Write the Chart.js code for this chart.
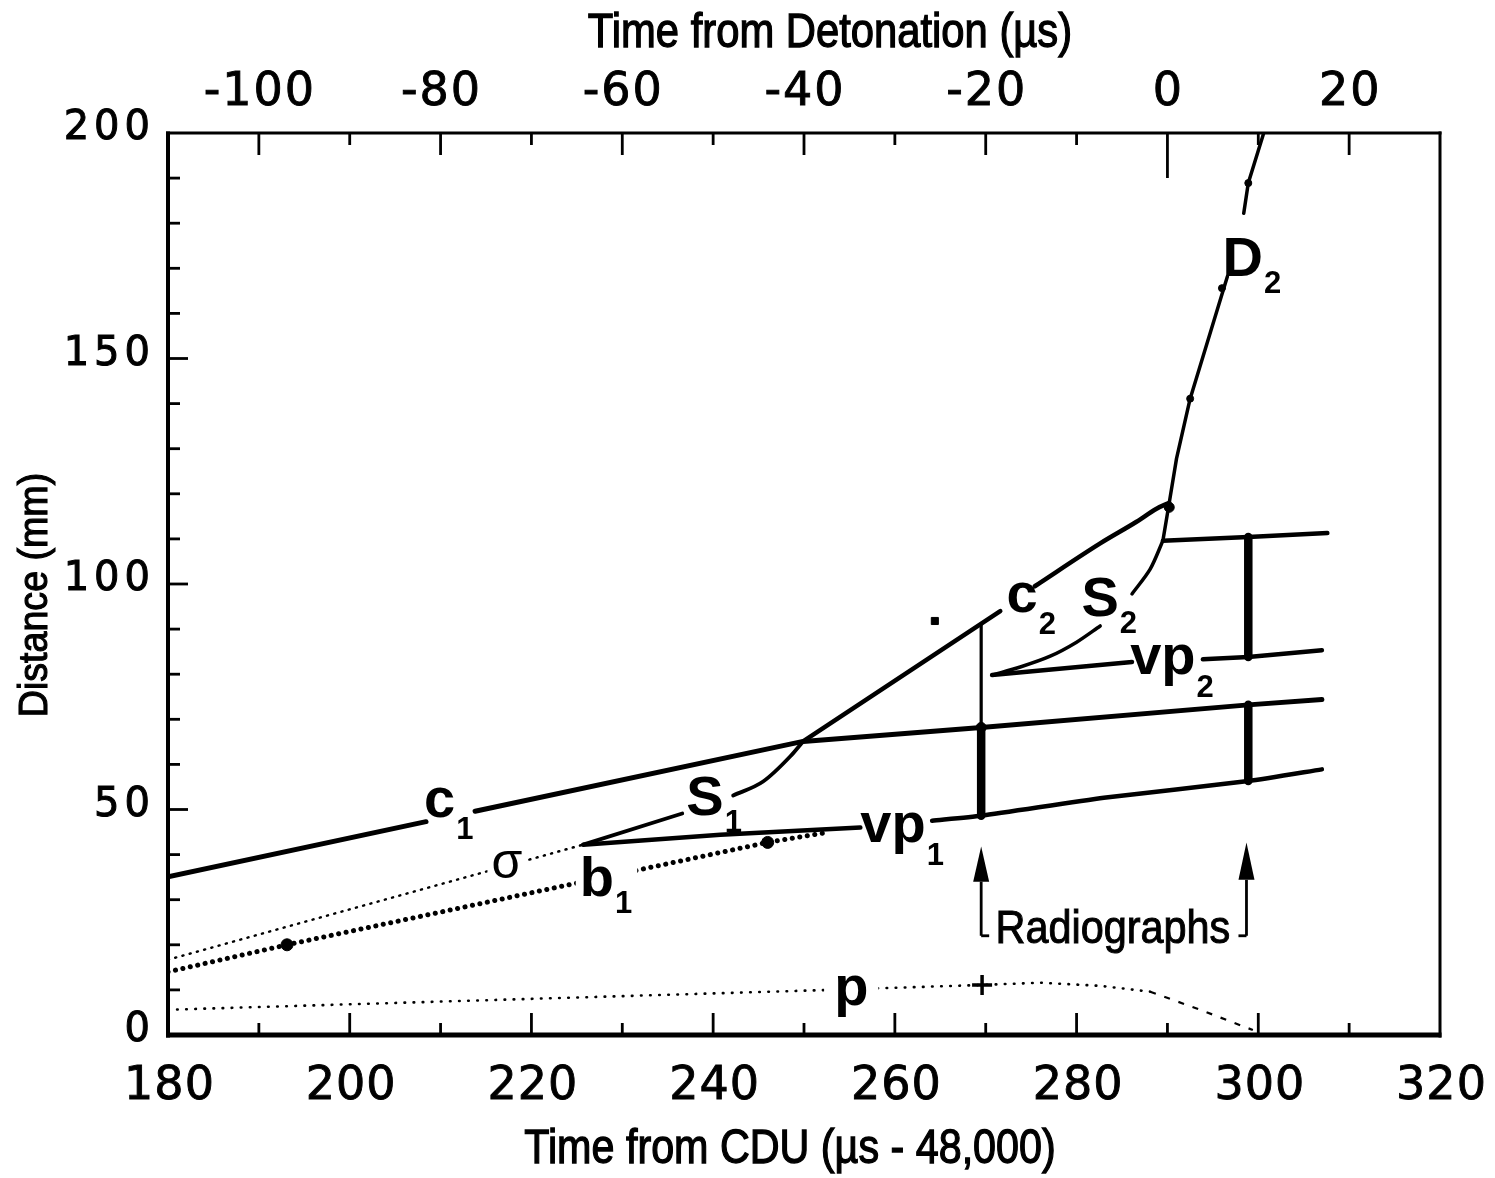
<!DOCTYPE html>
<html>
<head>
<meta charset="utf-8">
<script src="https://cdn.jsdelivr.net/npm/chart.js@4.4.0/dist/chart.umd.min.js"></script>
<style>
  html, body { margin: 0; padding: 0; background: #fff; }
  #wrap { width: 1495px; height: 1178px; }
</style>
</head>
<body>
<div id="wrap"><canvas id="chart"></canvas></div>
<script>
/* ================== DATA ================== */
// bottom: time from CDU (us - 48,000), top: time from detonation (us), left: distance (mm)
const cduTicks = [180, 200, 220, 240, 260, 280, 300, 320];
const detTicks = [-100, -80, -60, -40, -20, 0, 20];
const distTicks = [0, 50, 100, 150, 200];
const detOffset = 290; // detonation happens at CDU 290

// solid curves, split where the original leaves room for a label
const c1a = [[180, 35.1], [208.4, 47.3]];
const c1b = [[213.8, 49.6], [249.9, 65.1], [269.5, 68.2], [298.9, 73.2], [307.0, 74.4]];
const s1a = [[225.7, 42.2], [236.6, 49.1]];
const s1b = [[242.2, 53.1], [245.5, 56.2], [248.5, 61.8], [249.9, 65.1]];
const c2a = [[249.9, 65.1], [271.6, 94.0]];
const c2b = [[275.4, 99.5], [282.6, 109.0], [286.6, 113.8], [288.8, 116.7], [290.2, 118.0]];
const s2a = [[289.5, 109.6], [288.1, 103.3], [286.1, 97.8]];
const s2b = [[282.6, 90.7], [280.0, 87.1], [277.1, 84.0], [273.8, 81.6], [270.7, 79.8]];
const d2a = [[289.5, 109.6], [290.2, 118.0], [291.0, 127.8], [292.5, 141.1], [296.6, 168.2]];
const d2b = [[298.4, 182.2], [298.9, 188.9], [300.6, 200]];
const topRight = [[289.5, 109.6], [298.9, 110.4], [307.6, 111.3]];
const vp1a = [[225.7, 42.2], [240.8, 44.4], [256.2, 46.0]];
const vp1b = [[264.1, 47.5], [269.5, 48.6], [283.0, 52.6], [298.9, 56.3], [307.0, 58.9]];
const vp2a = [[270.7, 79.8], [286.1, 82.7]];
const vp2b = [[293.9, 83.3], [298.9, 83.8], [307.0, 85.3]];

// dotted curves
const sigma = [[180, 16.7], [225.7, 42.2]];
const b1 = [[180, 14.0], [193.1, 20.0], [246.0, 42.7], [252.5, 44.9]];
const p = [[180, 5.6], [252.9, 10.0], [258.9, 10.4], [269.6, 11.1], [276.0, 11.6],
           [282.6, 10.9], [288.1, 9.6]];
const pTail = [[288.1, 9.6], [293.6, 5.6], [299.4, 1.1]];

// radiograph bars
const radThin = [[269.5, 91.0], [269.5, 68.2]];
const radThick1 = [[269.5, 68.2], [269.5, 48.6]];
const radThick2a = [[298.9, 110.4], [298.9, 83.8]];
const radThick2b = [[298.9, 73.2], [298.9, 56.3]];

// markers
const squareDots = [[264.4, 91.8]];
const blobs = [[193.1, 20.0], [246.0, 42.7]];
const pCross = [[269.6, 11.1]];
const joints = [[290.2, 117.0], [269.5, 68.2]];
const d2Ticks = [[292.5, 141.1], [296.0, 165.6], [298.9, 188.9]];

/* ================== ANNOTATIONS ================== */
const labelDefs = [
  { text: "c", sub: "1", x: 209.9, y: 51.6, bold: true, size: 56 },
  { text: "S", sub: "1", x: 239.1, y: 53.3, bold: true, size: 56 },
  { text: "\u03c3", x: 217.3, y: 37.8, bold: false, size: 50, knock: [4, 4, 4, 4] },
  { text: "b", sub: "1", x: 227.2, y: 35.4, bold: true, size: 56, knock: [4, 4, 4, 4] },
  { text: "vp", sub: "1", x: 259.8, y: 46.0, bold: true, size: 56 },
  { text: "c", sub: "2", x: 274.0, y: 97.1, bold: true, size: 56 },
  { text: "S", sub: "2", x: 282.6, y: 97.3, bold: true, size: 56 },
  { text: "vp", sub: "2", x: 289.5, y: 83.3, bold: true, size: 56 },
  { text: "D", sub: "2", x: 298.3, y: 172.7, bold: true, size: 56 },
  { text: "p", x: 255.2, y: 9.9, bold: true, size: 56, knock: [10, 4, 10, 4] }
];
const arrows = [
  { x: 269.5, tip: 41.8, base: 34.0, tail: 22.0, hook: 1 },
  { x: 298.7, tip: 42.7, base: 34.4, tail: 22.0, hook: -1 }
];
const radioLabel = { text: "Radiographs", x: 284.0, y: 23.3 };

/* ================== HELPERS ================== */
const pts = a => a.map(([x, y]) => ({ x, y }));

function lineDs(data, width, dash, extra) {
  return Object.assign({
    data: pts(data),
    showLine: true,
    borderColor: "#000",
    borderWidth: width,
    borderDash: dash || [],
    borderCapStyle: "round",
    borderJoinStyle: "round",
    pointRadius: 0,
    fill: false,
    tension: 0
  }, extra || {});
}

function markDs(data, style, r, bw) {
  return {
    data: pts(data),
    showLine: false,
    pointStyle: style,
    pointRadius: r,
    backgroundColor: "#000",
    borderColor: "#000",
    borderWidth: bw || 1
  };
}

function spacedText(ctx, str, cx, cy, spacing, align, lw) {
  const chars = [...str];
  const widths = chars.map(ch => ctx.measureText(ch).width);
  const total = widths.reduce((a, b) => a + b, 0) + spacing * (chars.length - 1);
  let x = align === "right" ? cx - total : cx - total / 2;
  ctx.save();
  ctx.textAlign = "left";
  ctx.textBaseline = "middle";
  ctx.lineWidth = lw;
  chars.forEach((ch, i) => {
    ctx.fillText(ch, x, cy);
    if (lw) ctx.strokeText(ch, x, cy);
    x += widths[i] + spacing;
  });
  ctx.restore();
}

function heavyText(ctx, str, x, y, lw) {
  ctx.fillText(str, x, y);
  ctx.lineWidth = lw;
  ctx.strokeText(str, x, y);
}

function stroke(ctx, x1, y1, x2, y2) {
  ctx.beginPath();
  ctx.moveTo(x1, y1);
  ctx.lineTo(x2, y2);
  ctx.stroke();
}

/* ================== FRAME + TICKS PLUGIN ================== */
const framePlugin = {
  id: "frame",
  afterDatasetsDraw(chart) {
    const { ctx, chartArea: a, scales } = chart;
    ctx.save();
    ctx.strokeStyle = "#000";
    ctx.fillStyle = "#000";
    ctx.lineCap = "butt";

    // inward ticks
    ctx.lineWidth = 2.8;
    for (let v = 190; v < 320; v += 10) {
      const x = scales.x.getPixelForValue(v);
      stroke(ctx, x, a.bottom, x, a.bottom - (v % 20 === 0 ? 22 : 12));
    }
    for (let v = -100; v <= 20; v += 10) {
      const x = scales.x2.getPixelForValue(v);
      const len = v === 0 ? 45 : (v % 20 === 0 ? 22 : 12);
      stroke(ctx, x, a.top, x, a.top + len);
    }
    for (let v = 10; v < 200; v += 10) {
      const y = scales.y.getPixelForValue(v);
      stroke(ctx, a.left, y, a.left + (v % 50 === 0 ? 20 : 12), y);
    }

    // frame
    ctx.lineWidth = 5;
    stroke(ctx, a.left - 2, a.bottom, a.right + 1.5, a.bottom);
    ctx.lineWidth = 4;
    stroke(ctx, a.left, a.top - 1.5, a.left, a.bottom + 2.5);
    ctx.lineWidth = 3;
    stroke(ctx, a.left - 2, a.top, a.right + 1.5, a.top);
    stroke(ctx, a.right, a.top - 1.5, a.right, a.bottom + 2.5);

    // tick labels
    ctx.font = '46px "DejaVu Sans", sans-serif';
    cduTicks.forEach(v => {
      spacedText(ctx, String(v), scales.x.getPixelForValue(v) + 1, a.bottom + 52, 1, "center", 0.9);
    });
    detTicks.forEach(v => {
      spacedText(ctx, String(v), scales.x2.getPixelForValue(v), a.top - 40, 2, "center", 0.9);
    });
    ctx.font = '40px "DejaVu Sans", sans-serif';
    distTicks.forEach(v => {
      spacedText(ctx, String(v), a.left - 18, scales.y.getPixelForValue(v) - 4, 5, "right", 1);
    });
    ctx.restore();
  }
};

/* ================== LABELS PLUGIN ================== */
const labelPlugin = {
  id: "labels",
  afterDraw(chart) {
    const { ctx, scales } = chart;
    const xs = scales.x, ys = scales.y;
    ctx.save();
    ctx.fillStyle = "#000";
    ctx.strokeStyle = "#000";

    // curve labels (white knockouts only where a dotted line runs through)
    labelDefs.forEach(lb => {
      const px = xs.getPixelForValue(lb.x);
      const py = ys.getPixelForValue(lb.y);
      const font = (lb.bold ? "bold " : "") + lb.size + 'px "Liberation Sans", Arial, sans-serif';
      const subSize = Math.round(lb.size * 0.56);
      const subFont = "bold " + subSize + 'px "Liberation Sans", Arial, sans-serif';
      ctx.font = font;
      const w = ctx.measureText(lb.text).width;
      ctx.font = subFont;
      const sw = lb.sub ? ctx.measureText(lb.sub).width : 0;
      if (lb.knock) {
        const h = lb.size * 0.62;
        const [pl, pt, pr, pb] = lb.knock;
        ctx.fillStyle = "#fff";
        ctx.fillRect(px - w / 2 - pl, py - h / 2 - pt, w + pl + pr + (lb.sub ? sw + 2 : 0),
                     h + pt + pb + (lb.sub ? subSize * 0.4 : 0));
        ctx.fillStyle = "#000";
      }
      ctx.font = font;
      ctx.textAlign = "center";
      ctx.textBaseline = "alphabetic";
      const xHeightOnly = lb.text === "p" || lb.text === "vp" || lb.text === "c" || lb.text === "\u03c3";
      const base = py + lb.size * (xHeightOnly ? 0.26 : 0.36);
      ctx.fillText(lb.text, px, base);
      if (lb.sub) {
        ctx.font = subFont;
        ctx.textAlign = "left";
        ctx.fillText(lb.sub, px + w / 2 + 1, py + lb.size * 0.36 + subSize * 0.55);
      }
    });

    // arrows and bracket
    ctx.lineWidth = 2.8;
    arrows.forEach(ar => {
      const x = xs.getPixelForValue(ar.x);
      const yt = ys.getPixelForValue(ar.tip);
      const yb = ys.getPixelForValue(ar.base);
      const yl = ys.getPixelForValue(ar.tail);
      ctx.beginPath();
      ctx.moveTo(x, yt);
      ctx.lineTo(x - 8, yb);
      ctx.lineTo(x + 8, yb);
      ctx.closePath();
      ctx.fill();
      stroke(ctx, x, yb, x, yl);
      stroke(ctx, x, yl, x + ar.hook * 8, yl);
    });

    // Radiographs text
    ctx.save();
    ctx.translate(xs.getPixelForValue(radioLabel.x), ys.getPixelForValue(radioLabel.y));
    ctx.scale(0.9, 1);
    ctx.font = '46px "Liberation Sans", Arial, sans-serif';
    ctx.textAlign = "center";
    ctx.textBaseline = "middle";
    heavyText(ctx, radioLabel.text, 0, 0, 1);
    ctx.restore();

    // axis titles
    ctx.font = '48px "Liberation Sans", Arial, sans-serif';
    ctx.textAlign = "center";
    ctx.textBaseline = "middle";
    ctx.save();
    ctx.translate(830, 34);
    ctx.scale(0.87, 1);
    heavyText(ctx, "Time from Detonation (\u00b5s)", 0, 0, 1.3);
    ctx.restore();
    ctx.save();
    ctx.translate(790, 1150);
    ctx.scale(0.86, 1);
    heavyText(ctx, "Time from CDU (\u00b5s - 48,000)", 0, 0, 1.3);
    ctx.restore();
    ctx.save();
    ctx.translate(36, 595);
    ctx.rotate(-Math.PI / 2);
    ctx.scale(0.94, 1);
    ctx.font = '40px "Liberation Sans", Arial, sans-serif';
    heavyText(ctx, "Distance (mm)", 0, 0, 1.1);
    ctx.restore();

    ctx.restore();
  }
};

/* ================== CHART ================== */
const hiddenAxis = {
  grid: { display: false, drawTicks: false },
  border: { display: false },
  ticks: { display: false }
};

const chart = new Chart(document.getElementById("chart"), {
  type: "scatter",
  data: {
    datasets: [
      lineDs(c1a, 5),
      lineDs(c1b, 5),
      lineDs(s1a, 3.8),
      lineDs(s1b, 3.8, null, { cubicInterpolationMode: "monotone" }),
      lineDs(c2a, 4.5),
      lineDs(c2b, 4.5, null, { cubicInterpolationMode: "monotone" }),
      lineDs(s2a, 3.5, null, { tension: 0.3 }),
      lineDs(s2b, 3.5, null, { tension: 0.3 }),
      lineDs(d2a, 3.5),
      lineDs(d2b, 3.5),
      lineDs(topRight, 4.5),
      lineDs(vp1a, 4.5),
      lineDs(vp1b, 4.5, null, { tension: 0.2 }),
      lineDs(vp2a, 4.5),
      lineDs(vp2b, 4.5),
      lineDs(sigma, 2.5, [1, 6.5]),
      lineDs(b1, 5, [0.1, 7.5]),
      lineDs(p, 2.6, [0.6, 8.5]),
      lineDs(pTail, 2.2, [6, 9], { borderCapStyle: "butt" }),
      lineDs(radThin, 3.2, null, { borderCapStyle: "butt" }),
      lineDs(radThick1, 8.5, null, { borderCapStyle: "butt" }),
      lineDs(radThick2a, 8.5, null, { borderCapStyle: "butt" }),
      lineDs(radThick2b, 8.5, null, { borderCapStyle: "butt" }),
      markDs(squareDots, "rect", 5),
      markDs(blobs, "circle", 6),
      markDs(pCross, "cross", 10, 3.5),
      markDs(joints, "circle", 5),
      markDs(d2Ticks, "circle", 3.5)
    ]
  },
  options: {
    responsive: true,
    maintainAspectRatio: false,
    animation: false,
    layout: { padding: { left: 0, right: 55, top: 0, bottom: 0 } },
    plugins: {
      legend: { display: false },
      tooltip: { enabled: false }
    },
    scales: {
      x: Object.assign({
        type: "linear", position: "bottom", min: 180, max: 320,
        afterFit: s => { s.height = 143; }
      }, hiddenAxis),
      x2: Object.assign({
        type: "linear", position: "top",
        min: 180 - detOffset, max: 320 - detOffset,
        afterFit: s => { s.height = 133; }
      }, hiddenAxis),
      y: Object.assign({
        type: "linear", position: "left", min: 0, max: 200,
        afterFit: s => { s.width = 168; }
      }, hiddenAxis)
    }
  },
  plugins: [framePlugin, labelPlugin]
});
</script>
</body>
</html>
